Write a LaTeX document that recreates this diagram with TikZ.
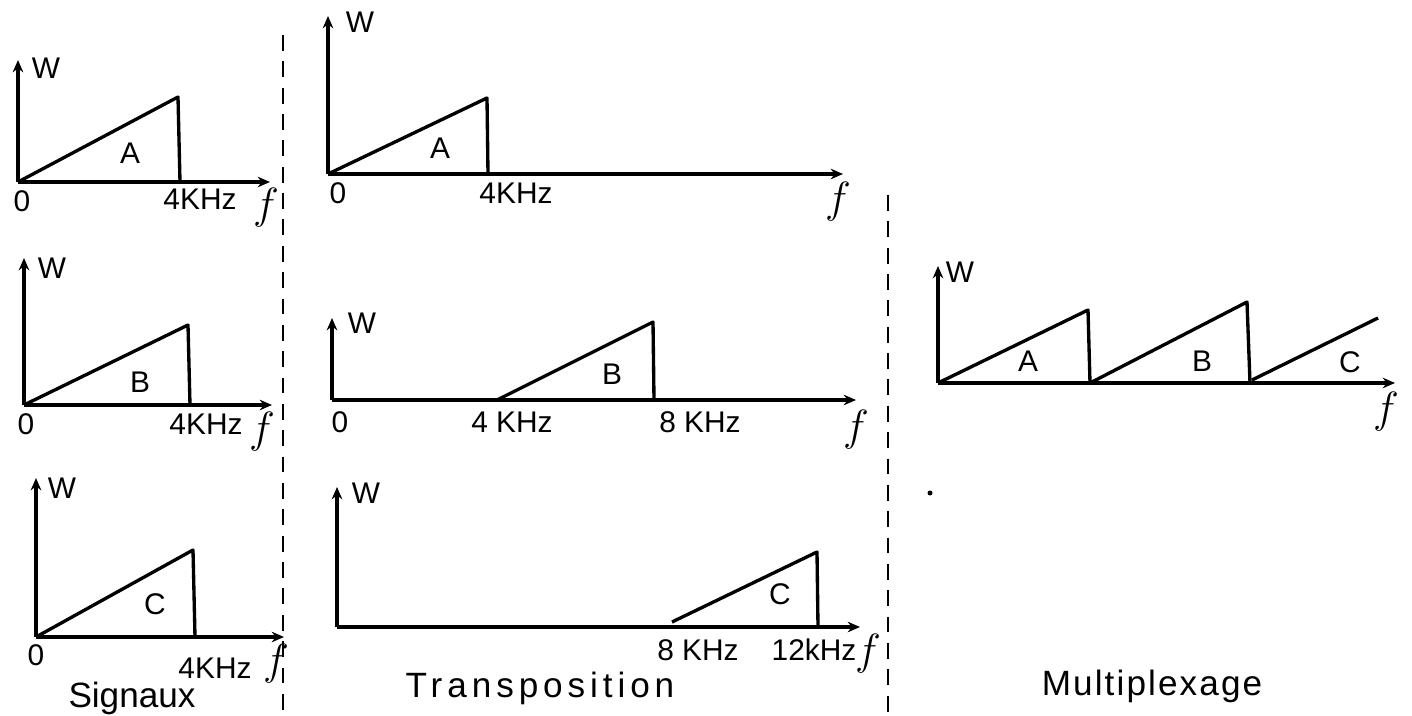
\documentclass[tikz,border=0pt]{standalone}
\usepackage{fontspec}
\setmainfont{Liberation Sans}
\usetikzlibrary{arrows.meta}

\begin{document}
\begin{tikzpicture}[x=0.02cm, y=-0.02cm,
    axis/.style={-{Stealth[length=7pt, width=6pt]}, line width=1.8pt},
    sig/.style={line width=1.9pt, line join=round},
    sep/.style={line width=1.1pt, dash pattern=on 9pt off 6pt},
    lbl/.style={font=\fontsize{17}{19}\selectfont},
    fl/.style={font=\fontsize{24}{26}\selectfont},
    ttl/.style={font=\fontsize{20}{22}\selectfont}
]
    \useasboundingbox (0,0) rectangle (1412,716);

    % Signal A (left)
    \coordinate (oLA) at (18,182);
    \draw[axis] (oLA) -- (18,60);
    \draw[axis] (oLA) -- (270,182);
    \draw[sig] (oLA) -- (178,97) -- (180,182);
    \node[lbl] (wLA) at (46,68) {W};
    \node[lbl] (zLA) at (22,201) {0};
    \node[lbl] (kLA) at (200,199) {4KHz};
    \node[fl] (fLA) at (266,208) {$f$};
    \node[lbl] (nLA) at (130,153) {A};

    % Signal B (left)
    \coordinate (oLB) at (24,405);
    \draw[axis] (oLB) -- (24,258);
    \draw[axis] (oLB) -- (272,405);
    \draw[sig] (oLB) -- (188,325) -- (190,405);
    \node[lbl] (wLB) at (52,268) {W};
    \node[lbl] (zLB) at (26,424) {0};
    \node[lbl] (kLB) at (206,424) {4KHz};
    \node[fl] (fLB) at (262,432) {$f$};
    \node[lbl] (nLB) at (140,382) {B};

    % Signal C (left)
    \coordinate (oLC) at (36,637);
    \draw[axis] (oLC) -- (36,478);
    \draw[axis] (oLC) -- (284,637);
    \draw[sig] (oLC) -- (193,550) -- (195,637);
    \node[lbl] (wLC) at (62,488) {W};
    \node[lbl] (zLC) at (36,655) {0};
    \node[lbl] (kLC) at (215,668) {4KHz};
    \node[fl] (fLC) at (276,664) {$f$};
    \node[lbl] (nLC) at (155,604) {C};
    \node[ttl] (tL) at (132,698) {Signaux};

    % Separators
    \draw[sep] (283,35) -- (283,716);
    \draw[sep] (888,195) -- (888,716);

    % Transposition A (middle)
    \coordinate (oMA) at (328,174);
    \draw[axis] (oMA) -- (328,16);
    \draw[axis] (oMA) -- (843,174);
    \draw[sig] (oMA) -- (487,98) -- (488,174);
    \node[lbl] (wMA) at (360,22) {W};
    \node[lbl] (zMA) at (338,193) {0};
    \node[lbl] (kMA) at (516,193) {4KHz};
    \node[fl] (fMA) at (838,202) {$f$};
    \node[lbl] (nMA) at (440,148) {A};

    % Transposition B (middle)
    \coordinate (oMB) at (332,400);
    \draw[axis] (oMB) -- (332,318);
    \draw[axis] (oMB) -- (856,400);
    \coordinate (sMB) at (497,400);
    \draw[sig] (sMB) -- (653,322) -- (654,400);
    \node[lbl] (wMB) at (362,323) {W};
    \node[lbl] (zMB) at (340,422) {0};
    \node[lbl] (kMB) at (512,422) {4 KHz};
    \node[lbl] (hMB) at (700,422) {8 KHz};
    \node[fl] (fMB) at (856,430) {$f$};
    \node[lbl] (nMB) at (612,374) {B};

    % Transposition C (middle)
    \coordinate (oMC) at (337,627);
    \draw[axis] (oMC) -- (337,487);
    \draw[axis] (oMC) -- (860,627);
    \coordinate (sMC) at (672,622);
    \draw[sig] (sMC) -- (817,552) -- (818,627);
    \node[lbl] (wMC) at (366,493) {W};
    \node[lbl] (kMC) at (698,650) {8 KHz};
    \node[lbl] (hMC) at (814,650) {12kHz};
    \node[fl] (fMC) at (868,654) {$f$};
    \node[lbl] (nMC) at (780,594) {C};
    \node[ttl] (tM) at (540,688) {\addfontfeature{LetterSpace=14}Transposition};

    % Multiplexage (right)
    \coordinate (oR) at (938,383);
    \draw[axis] (oR) -- (938,266);
    \draw[axis] (oR) -- (1395,383);
    \draw[sig] (oR) -- (1088,310) -- (1090,383);
    \draw[sig] (1090,383) -- (1247,302) -- (1250,383);
    \draw[sig] (1252,380) -- (1378,318);
    \node[lbl] (wR) at (960,272) {W};
    \node[lbl] (nRA) at (1028,361) {A};
    \node[lbl] (nRB) at (1202,361) {B};
    \node[lbl] (nRC) at (1350,362) {C};
    \node[fl] (fR) at (1386,412) {$f$};
    \fill (930,493) circle (2.5);
    \node[ttl] (tR) at (1152,686) {\addfontfeature{LetterSpace=6}Multiplexage};

\end{tikzpicture}
\end{document}
